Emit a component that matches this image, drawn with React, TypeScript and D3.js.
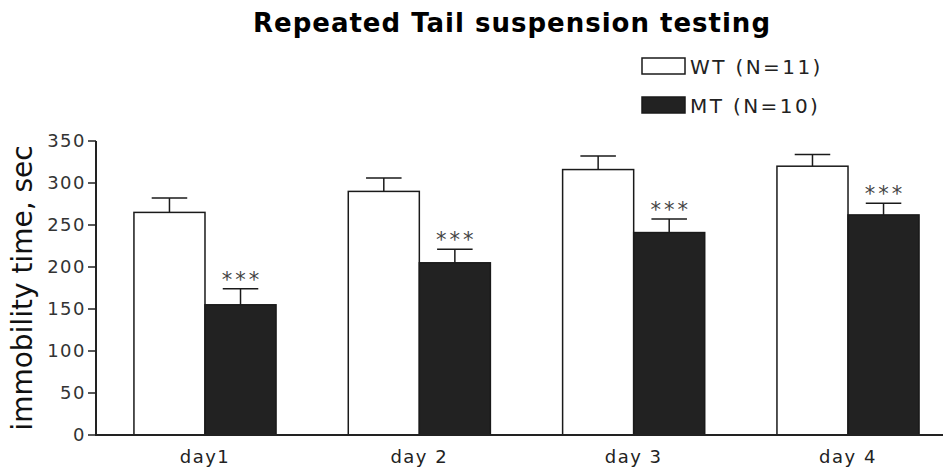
import React from "react";
import * as d3 from "d3";

// Repeated tail suspension test: immobility time per day, WT vs MT
const days = ["day1", "day 2", "day 3", "day 4"];
const groups = ["WT (N=11)", "MT (N=10)"];
const wtMeans = [265, 290, 316, 320];
const wtErrors = [17, 16, 16, 14];
const mtMeans = [155, 205, 241, 262];
const mtErrors = [19, 16, 16, 14];
const significance = ["***", "***", "***", "***"];
const yTicks = [0, 50, 100, 150, 200, 250, 300, 350];

const W = 943;
const H = 469;
const FONT = "'DejaVu Sans', Verdana, sans-serif";

export default function App() {
  if (typeof document !== "undefined") document.body.style.margin = "0";

  const axisX = 96;
  const y = d3.scaleLinear().domain([0, 350]).range([435, 141]);
  const x0 = d3
    .scaleBand<string>()
    .domain(days)
    .range([axisX, 957])
    .paddingInner(0.337)
    .paddingOuter(0.177);
  const x1 = d3.scaleBand<string>().domain(groups).range([0, x0.bandwidth()]);

  const series = [
    { name: groups[0], means: wtMeans, errs: wtErrors, fill: "#ffffff" },
    { name: groups[1], means: mtMeans, errs: mtErrors, fill: "#222222" },
  ];

  const stroke = "#1a1a1a";

  return (
    <svg width={W} height={H} style={{ display: "block", background: "#fff" }} fontFamily={FONT}>
      <text x={512} y={32} textAnchor="middle" fontSize={26} letterSpacing={1} fontWeight="bold" fill="#000">
        Repeated Tail suspension testing
      </text>

      {/* legend */}
      {series.map((s, i) => (
        <g key={s.name} transform={`translate(642, ${58 + i * 39})`}>
          <rect x={0} y={0} width={43} height={16} fill={s.fill} stroke={stroke} strokeWidth={1.5} />
          <text x={48} y={16} fontSize={20} letterSpacing={2.4} fill="#222">
            {s.name}
          </text>
        </g>
      ))}

      {/* y axis */}
      <line x1={axisX} x2={axisX} y1={y(350)} y2={y(0) + 1} stroke="#222" strokeWidth={2} />
      {yTicks.map((t) => (
        <g key={t}>
          <line x1={axisX - 8} x2={axisX} y1={y(t)} y2={y(t)} stroke="#222" strokeWidth={1.5} />
          <text x={axisX - 10} y={y(t) + 6} textAnchor="end" fontSize={18} letterSpacing={1.5} fill="#333">
            {t}
          </text>
        </g>
      ))}
      <text
        transform={`translate(32, ${y(175)}) rotate(-90)`}
        textAnchor="middle"
        fontSize={28}
        fill="#111"
      >
        immobility time, sec
      </text>

      {/* bars with SEM error bars */}
      {days.map((d, di) => (
        <g key={d} transform={`translate(${x0(d)}, 0)`}>
          {series.map((s) => {
            const bx = x1(s.name)!;
            const bw = x1.bandwidth();
            const cx = bx + bw / 2;
            const top = y(s.means[di]);
            const errTop = y(s.means[di] + s.errs[di]);
            return (
              <g key={s.name}>
                <line x1={cx} x2={cx} y1={top} y2={errTop} stroke={stroke} strokeWidth={1.5} />
                <line x1={cx - bw / 4} x2={cx + bw / 4} y1={errTop} y2={errTop} stroke={stroke} strokeWidth={1.5} />
                <rect x={bx} y={top} width={bw} height={y(0) - top} fill={s.fill} stroke={stroke} strokeWidth={1.5} />
              </g>
            );
          })}
          <text
            x={x1(groups[1])! + x1.bandwidth() / 2 + 1.5}
            y={y(mtMeans[di] + mtErrors[di]) - 2}
            textAnchor="middle"
            fontSize={21}
            letterSpacing={3}
            fill="#444"
          >
            {significance[di]}
          </text>
          <text x={x0.bandwidth() / 2} y={463} textAnchor="middle" fontSize={18} letterSpacing={1.5} fill="#222">
            {d}
          </text>
        </g>
      ))}

      {/* x axis */}
      <line x1={axisX} x2={W} y1={y(0)} y2={y(0)} stroke="#222" strokeWidth={2} />
    </svg>
  );
}
